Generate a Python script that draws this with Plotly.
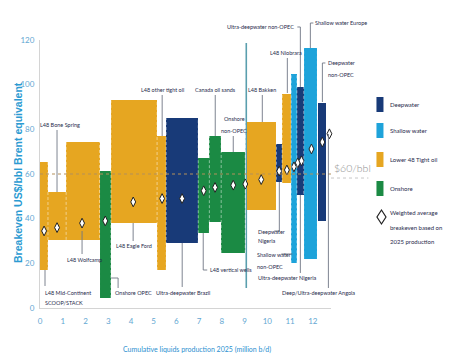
import plotly.graph_objects as go

# ---------------- data ----------------
seg_start = [0.00, 0.35, 1.15, 2.62, 3.12, 5.15, 5.55, 6.96, 7.45, 7.97, 9.10, 10.40, 10.65, 11.05, 11.30, 11.62, 12.22]
seg_end   = [0.35, 1.15, 2.62, 3.12, 5.15, 5.55, 6.96, 7.45, 7.97, 9.03, 10.40, 10.65, 11.05, 11.30, 11.60, 12.20, 12.60]
seg_low   = [17, 30.5, 30.5, 4.5, 38, 17, 29, 33.5, 38.5, 24.6, 44, 56.5, 56, 20, 50.5, 22, 39]
seg_high  = [65.5, 52, 74.5, 61.5, 93, 77, 85, 67, 77, 70, 83.5, 73.5, 96, 105, 99, 116.5, 92]
seg_cat   = ["Lower 48 Tight oil", "Lower 48 Tight oil", "Lower 48 Tight oil", "Onshore",
             "Lower 48 Tight oil", "Lower 48 Tight oil", "Deepwater", "Onshore", "Onshore",
             "Onshore", "Lower 48 Tight oil", "Deepwater", "Lower 48 Tight oil", "Shallow water",
             "Deepwater", "Shallow water", "Deepwater"]

avg_x = [0.18, 0.75, 1.85, 2.87, 4.10, 5.37, 6.25, 7.20, 7.70, 8.50, 9.03, 9.73, 10.52, 10.86, 11.17, 11.34, 11.50, 11.94, 12.42, 12.73]
avg_y = [34.5, 36, 38, 39, 47.5, 49, 49, 52.5, 54, 55, 55.5, 57.5, 61.3, 61.8, 63.2, 65, 65.9, 71.2, 74.3, 78]

categories = ["Deepwater", "Shallow water", "Lower 48 Tight oil", "Onshore"]
cat_colors = {"Deepwater": "#183a78", "Shallow water": "#1ea3da",
              "Lower 48 Tight oil": "#e6a621", "Onshore": "#1b8a44"}

x_ticks = list(range(0, 13))
y_ticks = [0, 20, 40, 60, 80, 100, 120]
price_line = 60

# ---------------- layout helpers ----------------
# the page adds an 8px body margin, so the figure is drawn 8px smaller and
# all positions below are given in the reference picture's pixel frame
OFF = 8
W, H = 452 - OFF, 363 - OFF
PLOT_L, PLOT_R, PLOT_T, PLOT_B = 40, 330.6, 40, 308   # reference pixels
L, T = PLOT_L - OFF, PLOT_T - OFF
R = W - (PLOT_R - OFF)
B = H - (PLOT_B - OFF)
PW, PH = PLOT_R - PLOT_L, PLOT_B - PLOT_T
def PX(px):
    return (px - PLOT_L) / PW
def PY(py):
    return (PLOT_B - py) / PH

FONT = "Lato, Liberation Sans, sans-serif"
LBL = "#1f2b4c"
LINE = "#6f7684"

fig = go.Figure()

for cat in categories:
    idx = [i for i, c in enumerate(seg_cat) if c == cat]
    fig.add_trace(go.Bar(
        x=[(seg_start[i] + seg_end[i]) / 2 for i in idx],
        width=[seg_end[i] - seg_start[i] for i in idx],
        base=[seg_low[i] for i in idx],
        y=[seg_high[i] - seg_low[i] for i in idx],
        marker=dict(color=cat_colors[cat], line=dict(width=0)),
        name=cat, showlegend=False, hoverinfo="skip"))

fig.add_trace(go.Scatter(
    x=avg_x, y=avg_y, mode="markers", showlegend=False,
    marker=dict(symbol="diamond-tall", size=7, color="white",
                line=dict(color="#222222", width=1)),
    cliponaxis=False))

shapes = []
# white dashed boundaries between adjacent segments
for i in range(len(seg_start) - 1):
    xb = seg_end[i]
    shapes.append(dict(type="line", xref="x", yref="y", x0=xb, x1=xb,
                       y0=min(seg_low[i], seg_low[i + 1]), y1=max(seg_high[i], seg_high[i + 1]),
                       line=dict(color="rgba(255,255,255,0.8)", width=0.6, dash="3px,2px"), layer="above"))

# $60 line
shapes.append(dict(type="line", xref="x", yref="y", x0=0, x1=12.8, y0=price_line, y1=price_line,
                   line=dict(color="#b3905a", width=1, dash="dot"), layer="above"))
shapes.append(dict(type="line", xref="paper", yref="y", x0=1, x1=PX(368), y0=price_line - 1.8, y1=price_line - 1.8,
                   line=dict(color="#c8c8c8", width=1, dash="dot")))

# thin teal line
shapes.append(dict(type="line", xref="paper", yref="paper", x0=PX(246), x1=PX(246), y0=PY(43), y1=PY(288),
                   line=dict(color="#5a9fae", width=1.6), layer="below"))

callouts = [
    [(45, 270), (45, 286)],
    [(57, 130), (57, 192)],
    [(82, 231), (82, 254)],
    [(111, 278), (118, 278), (118, 288)],
    [(133, 223), (133, 241)],
    [(162, 95), (162, 136)],
    [(182, 243), (182, 287)],
    [(203, 233), (203, 270), (207, 270)],
    [(215, 95), (215, 136)],
    [(233, 136), (233, 152)],
    [(262, 95), (262, 122)],
    [(297, 27), (300, 27), (300, 87)],
    [(287, 58), (287, 93)],
    [(313, 23), (310, 23), (310, 48)],
    [(325, 63), (322, 63), (322, 102)],
    [(279, 182), (279, 231), (274, 231)],
    [(281, 254), (292, 254)],
    [(300, 195), (300, 273)],
    [(328, 134), (328, 288)],
]
for pts in callouts:
    path = "M " + " L ".join(f"{PX(a):.5f},{PY(b):.5f}" for a, b in pts)
    shapes.append(dict(type="path", xref="paper", yref="paper", path=path,
                       line=dict(color=LINE, width=0.9)))

# legend swatches
leg_y = [104.5, 130.5, 159.5, 188.5]
for cat, ly in zip(categories, leg_y):
    shapes.append(dict(type="rect", xref="paper", yref="paper",
                       x0=PX(376), x1=PX(383), y0=PY(ly - 7.5), y1=PY(ly + 7.5),
                       fillcolor=cat_colors[cat], line=dict(width=0)))
# legend diamond
dcx, dcy = 381, 217
dpath = (f"M {PX(dcx):.5f},{PY(dcy-7):.5f} L {PX(dcx+4.5):.5f},{PY(dcy):.5f} "
         f"L {PX(dcx):.5f},{PY(dcy+7):.5f} L {PX(dcx-4.5):.5f},{PY(dcy):.5f} Z")
shapes.append(dict(type="path", xref="paper", yref="paper", path=dpath,
                   fillcolor="white", line=dict(color="#222222", width=1.2)))

ann = []
def lab(text, px, py, anchor="center", size=5.5, color=LBL, font=FONT, weight=None):
    f = dict(size=size, color=color, family=font)
    if weight:
        f["weight"] = weight
    ann.append(dict(text=text, x=PX(px), y=PY(py), xref="paper", yref="paper",
                    xanchor=anchor, yanchor="middle", showarrow=False, font=f))

lab("L48 Mid-Continent", 43, 293, "left")
lab("SCOOP/STACK", 43, 303, "left")
lab("L48 Bone Spring", 60, 125)
lab("L48 Wolfcamp", 84, 260)
lab("Onshore OPEC", 113, 293, "left")
lab("L48 Eagle Ford", 134, 246)
lab("L48 other tight oil", 162, 90)
lab("Ultra-deepwater Brazil", 183, 293)
lab("L48 vertical wells", 208, 270, "left")
lab("Canada oil sands", 215, 90)
lab("Onshore", 234, 119)
lab("non-OPEC", 234, 131)
lab("L48 Bakken", 262, 90)
lab("Ultra-deepwater non-OPEC", 296, 27, "right")
lab("L48 Niobrara", 286, 53)
lab("Shallow water Europe", 313, 23, "left")
lab("Deepwater", 326, 63, "left")
lab("non-OPEC", 326, 75, "left")
lab("Deepwater", 256, 232, "left")
lab("Nigeria", 256, 241, "left")
lab("Shallow water", 255, 255, "left")
lab("non-OPEC", 255, 267, "left")
lab("Ultra-deepwater Nigeria", 287, 278)
lab("Deep/Ultra-deepwater Angola", 318, 293)

lab("$60/bbl", 332, 168, "left", size=10.5, color="#8e8e8e", weight=300)

for cat, ly in zip(categories, leg_y):
    lab(cat, 388, ly, "left", size=6)
lab("Weighted average", 388, 213, "left", size=6)
lab("breakeven based on", 388, 227, "left", size=6)
lab("2025 production", 388, 241, "left", size=6)

lab("Cumulative liquids production 2025 (million b/d)", 197, 349, "center", size=7, color="#2b8fd0")
ann.append(dict(text="<b>Breakeven US$/bbl Brent equivalent</b>", x=PX(18), y=PY(172),
                xref="paper", yref="paper", xanchor="center", yanchor="middle",
                textangle=-90, showarrow=False,
                font=dict(size=10.5, color="#2c9bd2", family="Liberation Sans, Arial, sans-serif")))

fig.update_layout(
    width=W, height=H, margin=dict(l=L, r=R, t=T, b=B, pad=0, autoexpand=False),
    paper_bgcolor="white", plot_bgcolor="white",
    barmode="overlay", bargap=0, showlegend=False,
    shapes=shapes, annotations=ann,
    xaxis=dict(range=[0, 12.8], tickvals=x_ticks, showgrid=False, zeroline=False,
               showline=True, linecolor="#d4d4d4", linewidth=1, ticks="",
               tickfont=dict(size=8, color="#63a7d2", family=FONT), ticklabelstandoff=5),
    yaxis=dict(range=[0, 120], tickvals=y_ticks, showgrid=False, zeroline=False,
               showline=True, linecolor="#d4d4d4", linewidth=1, ticks="",
               tickfont=dict(size=8, color="#63a7d2", family=FONT), ticklabelstandoff=3),
)

fig.write_html("out.html")
